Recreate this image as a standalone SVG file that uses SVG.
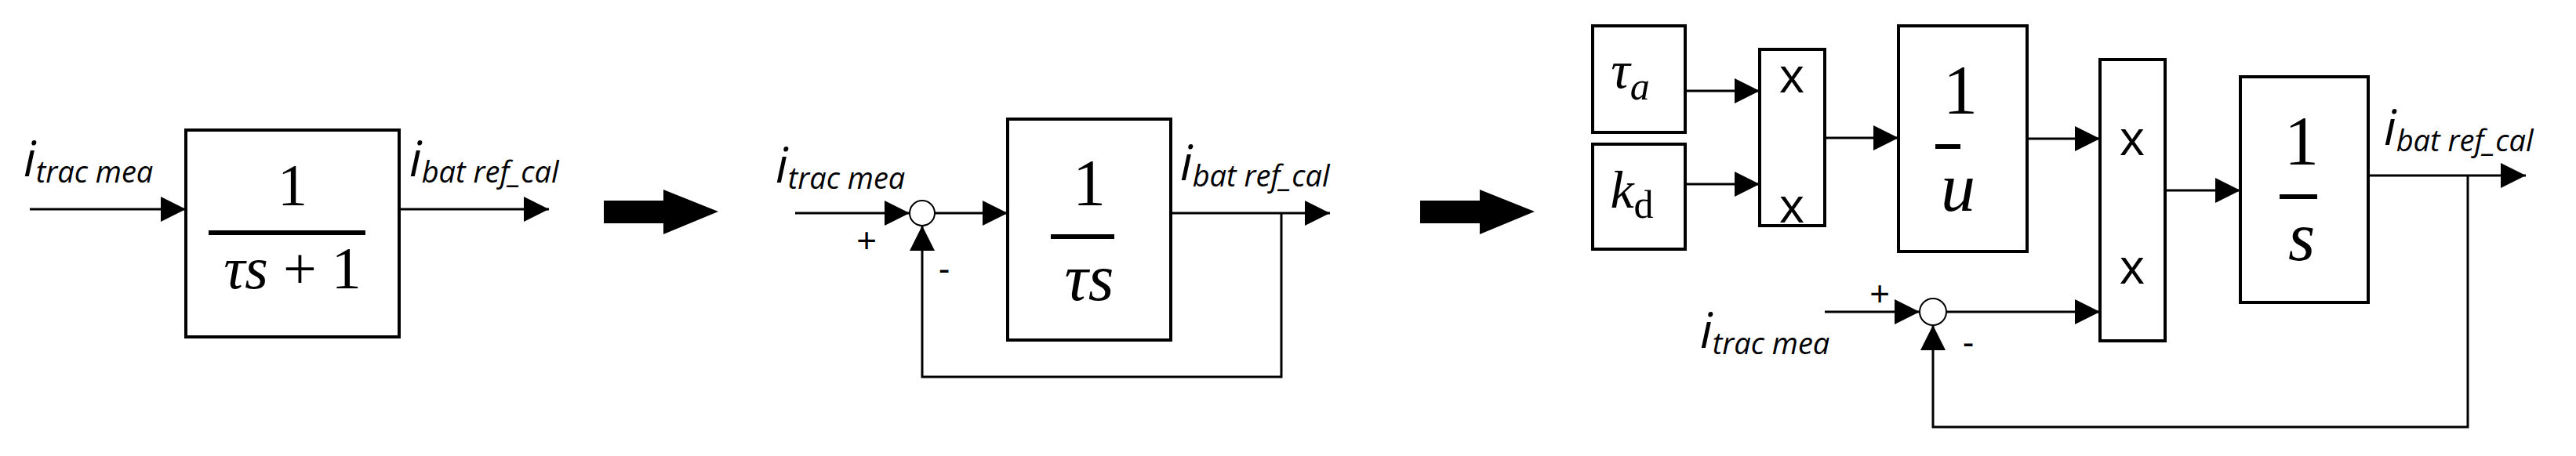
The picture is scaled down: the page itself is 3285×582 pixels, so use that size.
<svg xmlns="http://www.w3.org/2000/svg" width="3285" height="582" viewBox="0 0 3285 582">
<style>
.ln{stroke:#000;stroke-width:3;fill:none}
.bx{stroke:#000;stroke-width:4;fill:#fff}
.lb{font-family:"Open Sans","Liberation Sans",sans-serif;font-style:italic;fill:#000}
.m{font-family:"Liberation Serif","DejaVu Serif",serif;fill:#000;text-anchor:middle}
.x{font-family:"Open Sans","Liberation Sans",sans-serif;font-size:62px;fill:#000;text-anchor:middle}
.s{font-family:"Liberation Sans",sans-serif;font-size:44px;fill:#000;text-anchor:middle}
</style>
<defs>
<marker id="a" markerUnits="userSpaceOnUse" markerWidth="34" markerHeight="34" refX="32" refY="16" orient="auto"><path d="M0,0 L32,16 L0,32 z" fill="#000"/></marker>
</defs>
<rect width="3285" height="582" fill="#fff"/>
<g id="connectors">
<path class="ln" d="M38,267 H237" marker-end="url(#a)"/>
<path class="ln" d="M509,267 H700" marker-end="url(#a)"/>
<path class="ln" d="M1014,272 H1160" marker-end="url(#a)"/>
<path class="ln" d="M1192,272 H1285" marker-end="url(#a)"/>
<path class="ln" d="M1493,272 H1696" marker-end="url(#a)"/>
<path class="ln" d="M1634,272 V481 H1176 V288" marker-end="url(#a)"/>
<path class="ln" d="M2149,116 H2244" marker-end="url(#a)"/>
<path class="ln" d="M2149,235 H2244" marker-end="url(#a)"/>
<path class="ln" d="M2327,176 H2421" marker-end="url(#a)"/>
<path class="ln" d="M2585,177 H2678" marker-end="url(#a)"/>
<path class="ln" d="M2761,243 H2857" marker-end="url(#a)"/>
<path class="ln" d="M2327,398 H2448" marker-end="url(#a)"/>
<path class="ln" d="M2482,398 H2678" marker-end="url(#a)"/>
<path class="ln" d="M3020,224 H3221" marker-end="url(#a)"/>
<path class="ln" d="M3147,224 V545 H2465 V415" marker-end="url(#a)"/>
<path d="M770,256 H846 V242 L916,270 L846,299 V285 H770 z" fill="#000"/>
<path d="M1811,256 H1887 V242 L1957,270 L1887,299 V285 H1811 z" fill="#000"/>
</g>
<g id="tf1">
<rect class="bx" x="237" y="166" width="272" height="264"/>
<text class="m" x="373" y="262" font-size="76">1</text>
<line x1="266" y1="297" x2="466" y2="297" stroke="#000" stroke-width="6"/>
<text class="m" x="373" y="368" font-size="76"><tspan font-style="italic">τs</tspan> + 1</text>
</g>
<g id="labels1">
<text class="lb" x="30" y="225" font-size="62">i<tspan font-size="38" dy="8">trac mea</tspan></text>
<text class="lb" x="522" y="225" font-size="62">i<tspan font-size="38" dy="8">bat ref_cal</tspan></text>
</g>
<g id="sum1"><ellipse cx="1176" cy="272" rx="16" ry="16" fill="#fff" stroke="#000" stroke-width="2"/>
<text class="s" x="1105" y="322">+</text><text class="s" x="1204" y="358">-</text></g>
<g id="tf2">
<rect class="bx" x="1285" y="152" width="208" height="282"/>
<text class="m" x="1389" y="262" font-size="84">1</text>
<line x1="1340" y1="302" x2="1421" y2="302" stroke="#000" stroke-width="6"/>
<text class="m" x="1389" y="383" font-size="84" font-style="italic">τs</text>
</g>
<g id="labels2">
<text class="lb" x="989" y="233" font-size="62">i<tspan font-size="38" dy="8">trac mea</tspan></text>
<text class="lb" x="1505" y="230" font-size="62">i<tspan font-size="38" dy="8">bat ref_cal</tspan></text>
</g>
<g id="tau"><rect class="bx" x="2031" y="33" width="118" height="136"/>
<text class="m" x="2079" y="112" font-size="68" font-style="italic">τ<tspan font-size="50" dy="15">a</tspan></text></g>
<g id="kd"><rect class="bx" x="2031" y="184" width="118" height="134"/>
<text class="m" x="2081" y="265" font-size="68"><tspan font-style="italic">k</tspan><tspan font-size="50" dy="13">d</tspan></text></g>
<g id="mult1"><rect class="bx" x="2244" y="63" width="83" height="225"/>
<text class="x" x="2285" y="118">x</text><text class="x" x="2285" y="284">x</text></g>
<g id="inv"><rect class="bx" x="2421" y="33" width="164" height="288"/>
<text class="m" x="2500" y="144" font-size="88">1</text>
<line x1="2468" y1="187" x2="2500" y2="187" stroke="#000" stroke-width="6"/>
<text class="m" x="2497" y="269" font-size="88" font-style="italic">u</text></g>
<g id="mult2"><rect class="bx" x="2678" y="76" width="83" height="359"/>
<text class="x" x="2719" y="198">x</text><text class="x" x="2719" y="362">x</text></g>
<g id="integ"><rect class="bx" x="2857" y="98" width="163" height="288"/>
<text class="m" x="2935" y="209" font-size="88">1</text>
<line x1="2907" y1="251" x2="2955" y2="251" stroke="#000" stroke-width="6"/>
<text class="m" x="2935" y="332" font-size="88" font-style="italic">s</text></g>
<g id="sum2"><ellipse cx="2465" cy="398" rx="17" ry="17" fill="#fff" stroke="#000" stroke-width="2"/>
<text class="s" x="2397" y="390">+</text><text class="s" x="2510" y="452">-</text></g>
<g id="labels3">
<text class="lb" x="2168" y="444" font-size="62">i<tspan font-size="38" dy="8">trac mea</tspan></text>
<text class="lb" x="3040" y="185" font-size="62">i<tspan font-size="38" dy="8">bat ref_cal</tspan></text>
</g>
</svg>
